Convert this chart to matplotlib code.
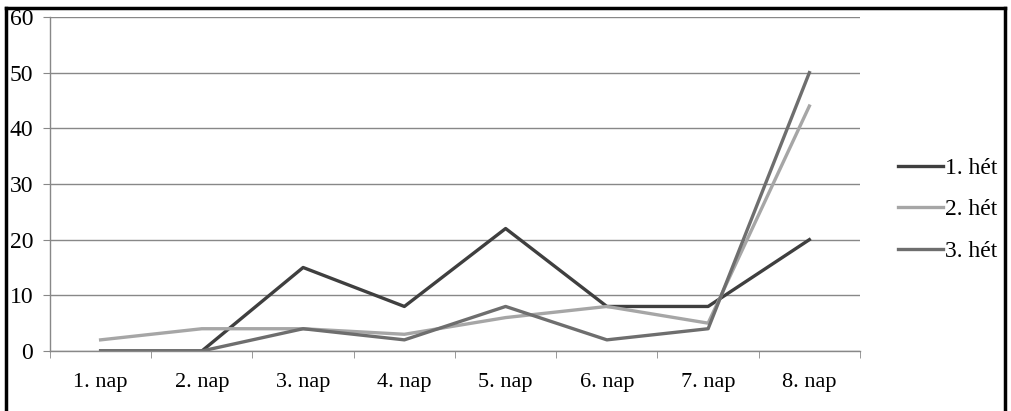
import matplotlib.pyplot as plt
from matplotlib.lines import Line2D

days = ['1. nap', '2. nap', '3. nap', '4. nap', '5. nap', '6. nap', '7. nap', '8. nap']
week1 = [0, 0, 15, 8, 22, 8, 8, 20]
week2 = [2, 4, 4, 3, 6, 8, 5, 44]
week3 = [0, 0, 4, 2, 8, 2, 4, 50]
labels = ['1. hét', '2. hét', '3. hét']
colors = ['#3f3f3f', '#a6a6a6', '#6e6e6e']

plt.rcParams['font.family'] = ['Liberation Serif', 'DejaVu Serif']

fig = plt.figure(figsize=(10.12, 4.11), dpi=100)
ax = fig.add_axes([0.0494, 0.146, 0.8004, 0.8127])

x = list(range(len(days)))
for vals, lab, col in zip([week1, week2, week3], labels, colors):
    ax.plot(x, vals, color=col, linewidth=2.4, label=lab)

ax.set_xlim(-0.5, len(days) - 0.5)
ax.set_ylim(0, 60)
ax.set_yticks(range(0, 61, 10))
ax.set_xticks(x)
ax.set_xticklabels(days, fontsize=16)
ax.set_xticks([i - 0.5 for i in range(len(days) + 1)], minor=True)
ax.tick_params(axis='x', which='major', length=0, pad=16)
ax.tick_params(axis='x', which='minor', length=5, color='#888888', direction='out')
ax.tick_params(axis='y', length=5, color='#888888', labelsize=17, pad=7)
ax.grid(axis='y', color='#888888', linewidth=1.0)
ax.set_axisbelow(True)
for s in ['top', 'right']:
    ax.spines[s].set_visible(False)
for s in ['left', 'bottom']:
    ax.spines[s].set_color('#888888')
    ax.spines[s].set_linewidth(1.0)

fig.legend(loc='center left', bbox_to_anchor=(0.871, 0.49), frameon=False,
           fontsize=17, handlelength=1.9, handletextpad=0.1, labelspacing=0.85,
           borderpad=0.2)

# outer frame
fig.add_artist(Line2D([0.006, 0.006], [0.0, 0.98], transform=fig.transFigure, color='black', linewidth=2.5))
fig.add_artist(Line2D([0.006, 0.993], [0.98, 0.98], transform=fig.transFigure, color='black', linewidth=2.5))
fig.add_artist(Line2D([0.993, 0.993], [0.0, 0.98], transform=fig.transFigure, color='black', linewidth=2.5))

fig.savefig('out.png', dpi=100, facecolor='white')
